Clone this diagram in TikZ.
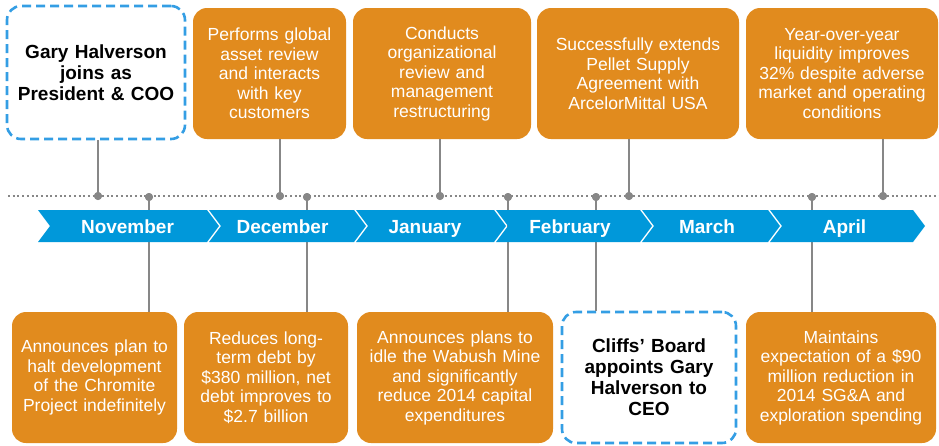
\documentclass[tikz,border=0pt]{standalone}
\usepackage{fontspec}
\setmainfont{Liberation Sans}
\usetikzlibrary{calc}
\usetikzlibrary{positioning}

\definecolor{evorange}{RGB}{225,139,30}
\definecolor{monthblue}{RGB}{0,152,218}
\definecolor{dashblue}{RGB}{52,158,228}
\definecolor{linegray}{RGB}{135,135,135}

\newcommand{\evfont}{\fontsize{17.5}{19.5}\selectfont}
\newcommand{\keyfont}{\bfseries\fontsize{19}{21}\selectfont}
\newcommand{\monthfont}{\bfseries\fontsize{19}{21}\selectfont}

\begin{document}
\begin{tikzpicture}[x=1pt, y=-1pt,
  event/.style={fill=evorange, text=white, rounded corners=14pt, align=center, minimum height=131pt, inner sep=0pt, font=\evfont},
  keyevent/.style={draw=dashblue, line width=2.6pt, dash pattern=on 9pt off 5pt, fill=white, rounded corners=14pt, align=center, minimum height=131pt, inner sep=0pt, font=\keyfont},
  tick/.style={circle, fill=linegray, inner sep=0pt, minimum size=8pt},
  stem/.style={linegray, line width=1.5pt}]
\useasboundingbox (0,0) rectangle (939,445);

% upper row
\node[keyevent, text width=178pt, minimum height=133pt] (t1) at (96,72.5) {Gary Halverson\\joins as\\President \& COO};
\node[event, text width=153pt] (t2) at (269.5,73.5) {Performs global\\asset review\\and interacts\\with key\\customers};
\node[event, text width=178pt] (t3) at (442,73.5) {Conducts\\organizational\\review and\\management\\restructuring};
\node[event, text width=202pt] (t4) at (638,73.5) {Successfully extends\\Pellet Supply\\Agreement with\\ArcelorMittal USA};
\node[event, text width=192pt] (t5) at (842,73.5) {Year-over-year\\liquidity improves\\32\% despite adverse\\market and operating\\conditions};

% lower row
\node[event, text width=165pt] (b1) at (94.5,377.5) {Announces plan to\\halt development\\of the Chromite\\Project indefinitely};
\node[event, text width=164pt] (b2) at (266,377.5) {Reduces long-\\term debt by\\\$380 million, net\\debt improves to\\\$2.7 billion};
\node[event, text width=196pt] (b3) at (455,377.5) {Announces plans to\\idle the Wabush Mine\\and significantly\\reduce 2014 capital\\expenditures};
\node[keyevent, text width=174pt] (b4) at (649,377.5) {Cliffs’ Board\\appoints Gary\\Halverson to\\CEO};
\node[event, text width=190pt] (b5) at (841,377.5) {Maintains\\expectation of a \$90\\million reduction in\\2014 SG\&A and\\exploration spending};

% dotted time axis
\coordinate (axisL) at (8,196);
\coordinate (axisR) at (939,196);
\draw[linegray, line width=2pt, dash pattern=on 2pt off 2.7pt] (axisL) -- (axisR);

\foreach \x [count=\i] in {98, 280, 440, 629, 883} \node[tick] (p\i) at (\x,196) {};
\foreach \x [count=\i] in {149, 307, 508, 596, 812} \node[tick] (q\i) at (\x,197) {};

\foreach \i in {1,...,5} \draw[stem] (t\i.south -| p\i) -- (p\i.center);
\foreach \i in {1,...,5} \draw[stem] (q\i.center) -- (q\i |- b\i.north);

% month chevrons
\foreach \l/\r/\m/\dx [count=\i] in {38/207/November/5, 209/354/December/1, 356/494/January/0, 496/640/February/2, 642/768/March/2, 770/913/April/3}
  \fill[monthblue] (\l,210) -- (\r,210) -- ({\r+12},226) -- (\r,242) -- (\l,242) -- ({\l+12},226) -- cycle
    node[text=white, font=\monthfont, anchor=base] (m\i) at ({(\l+\r)/2+\dx},233) {\m};

\foreach \i in {1,...,5} \node[tick] at (p\i) {};
\foreach \i in {1,...,5} \node[tick] at (q\i) {};

\end{tikzpicture}
\end{document}
